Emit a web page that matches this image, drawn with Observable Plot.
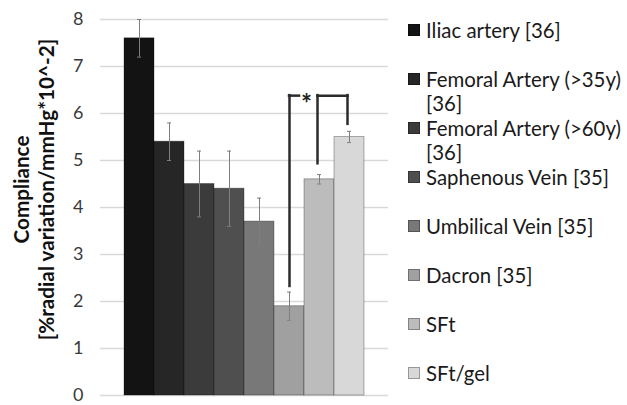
<!DOCTYPE html>
<html><head><meta charset="utf-8">
<script src="https://cdn.jsdelivr.net/npm/d3@7"></script>
<script src="https://cdn.jsdelivr.net/npm/@observablehq/plot@0.6"></script>
<style>
body{margin:0;background:#fff;}
#wrap{position:relative;width:627px;height:405px;overflow:hidden;font-family:Lato,"Open Sans",sans-serif;}
#wrap svg{position:absolute;left:0;top:0;}
.item{position:absolute;left:408px;width:219px;line-height:24px;color:#1a1a1a;}
.sw{position:absolute;left:0;top:6px;width:12px;height:12px;box-sizing:border-box;border:1px solid rgba(0,0,0,0.3);}
.lbl{position:absolute;left:18px;top:0;width:204px;}
</style></head><body><div id="wrap"></div>
<script>
const categories = ["Iliac artery [36]", "Femoral Artery (>35y) [36]", "Femoral Artery (>60y) [36]", "Saphenous Vein [35]", "Umbilical Vein [35]", "Dacron [35]", "SFt", "SFt/gel"];
const values = [7.6, 5.4, 4.5, 4.4, 3.7, 1.9, 4.6, 5.5];
const errors = [0.4, 0.4, 0.7, 0.8, 0.5, 0.3, 0.1, 0.12];
const colors = ["#131313", "#262626", "#3b3b3b", "#4f4f4f", "#787878", "#a0a0a0", "#bcbcbc", "#d8d8d8"];
const yTicks = [0, 1, 2, 3, 4, 5, 6, 7, 8];
const yTitleLines = ["Compliance", "[%radial variation/mmHg*10^-2]"];
const bracketTop = 6.38;
const bracketFeet = [{cat: "Dacron [35]", y: 2.32}, {cat: "SFt", y: 4.93}, {cat: "SFt/gel", y: 5.77}];
const bracketStart = "Dacron [35]";
const bracketEnd = ["SFt", "SFt/gel"];
const sigLabel = "*";

const data = categories.map((c, i) => ({cat: c, value: values[i], err: errors[i]}));
const bracketLine = "#2b2b2b";
const family = "Lato, sans-serif";

// size fonts to the widths measured on the reference
const ctx = document.createElement("canvas").getContext("2d");
function fitSize(text, weight, target) {
  ctx.font = `${weight} 100px ${family}`;
  return 100 * target / ctx.measureText(text).width;
}
const titleSize = Math.min(22, fitSize(yTitleLines[1], "bold", 302));
const legendSize = Math.min(21, fitSize("Saphenous Vein [35]", "normal", 184));

const chart = Plot.plot({
  width: 627, height: 405,
  marginLeft: 100, marginRight: 239, marginTop: 19, marginBottom: 10,
  style: {fontFamily: family, fontSize: "18px", color: "#3a3a3a", background: "transparent"},
  x: {domain: categories, paddingInner: 0, paddingOuter: 0.8, axis: null},
  y: {domain: [0, 8], ticks: yTicks, tickSize: 0, tickPadding: 17, label: null, tickFormat: d3.format("d")},
  color: {domain: categories, range: colors},
  marks: [
    Plot.ruleY(yTicks, {stroke: "#d9d9d9", strokeWidth: 1.5}),
    Plot.barY(data, {x: "cat", y: "value", fill: "cat", stroke: "#000", strokeOpacity: 0.3, strokeWidth: 1}),
    Plot.ruleX(data, {x: "cat", y1: d => d.value - d.err, y2: d => d.value + d.err, stroke: "#7f7f7f", strokeWidth: 1}),
    Plot.tickY(data, {x: "cat", y: d => d.value + d.err, insetLeft: 13, insetRight: 13, stroke: "#7f7f7f", strokeWidth: 1}),
    Plot.tickY(data, {x: "cat", y: d => d.value - d.err, insetLeft: 13, insetRight: 13, stroke: "#7f7f7f", strokeWidth: 1}),
    // significance bracket
    Plot.ruleX(bracketFeet.slice(0, 1), {x: "cat", y1: "y", y2: () => bracketTop, stroke: bracketLine, strokeWidth: 2.5, strokeLinecap: "square"}),
    Plot.ruleX(bracketFeet.slice(1), {x: "cat", y1: "y", y2: () => bracketTop, dx: -2, stroke: bracketLine, strokeWidth: 2.5, strokeLinecap: "square"}),
    Plot.tickY([bracketStart], {x: d => d, y: () => bracketTop, insetLeft: 15, insetRight: 5, stroke: bracketLine, strokeWidth: 2.5, strokeLinecap: "square"}),
    Plot.link([bracketEnd], {x1: d => d[0], x2: d => d[1], y1: () => bracketTop, y2: () => bracketTop, dx: -2, stroke: bracketLine, strokeWidth: 2.5, strokeLinecap: "square"}),
    Plot.text([sigLabel], {x: () => bracketStart, y: () => bracketTop, text: d => d, dx: 17, dy: 9, fontSize: 26, fontWeight: "bold", fill: "#222"}),
    // y axis title
    Plot.text([yTitleLines.join("\n")], {frameAnchor: "left", dx: -67.5, dy: -18, rotate: -90, text: d => d, textAnchor: "middle", lineAnchor: "middle", lineHeight: 25 / titleSize, fontSize: titleSize, fontWeight: "bold", fill: "#111"})
  ]
});
const wrap = document.getElementById("wrap");
wrap.appendChild(chart);

// legend
categories.forEach((c, i) => {
  const item = document.createElement("div");
  item.className = "item";
  item.style.top = (18 + 49 * i) + "px";
  item.style.fontSize = legendSize + "px";
  const sw = document.createElement("div");
  sw.className = "sw";
  sw.style.background = colors[i];
  const lbl = document.createElement("div");
  lbl.className = "lbl";
  lbl.textContent = c;
  item.appendChild(sw);
  item.appendChild(lbl);
  wrap.appendChild(item);
});
</script>
</body></html>
